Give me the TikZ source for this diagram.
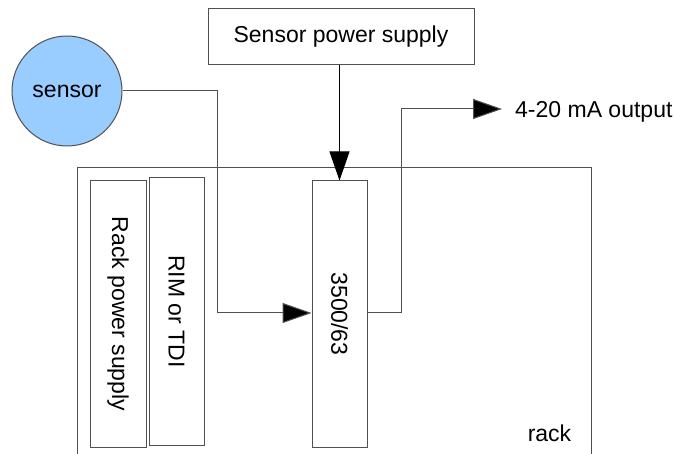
\documentclass[tikz,border=0pt]{standalone}
\usepackage{fontspec}
\setmainfont{Liberation Sans}
\usetikzlibrary{arrows.meta}
\definecolor{linegray}{RGB}{80,80,80}
\definecolor{sensorblue}{RGB}{153,204,255}
\begin{document}
\begin{tikzpicture}[x=1pt,y=-1pt,
  every node/.style={font=\fontsize{23}{27}\selectfont, inner sep=0pt},
  box/.style={draw=linegray, line width=1pt, fill=white},
  wire/.style={draw=linegray, line width=1pt},
  tip/.style={-{Triangle[length=29pt,width=20pt]}, tip color}
]
\useasboundingbox (0,0) rectangle (675,454);
% rack
\draw[wire] (77,454) -- (77,168) -- (591,168) -- (591,454);
\node (rack) at (549.5,433) {rack};
% boxes
\node[box, minimum width=56pt, minimum height=266pt] (rps) at (118,314) {\rotatebox{-90}{Rack power supply}};
\node[box, minimum width=55pt, minimum height=267pt] (rim) at (176.5,311.5) {\rotatebox{-90}{RIM or TDI}};
\node[box, minimum width=55pt, minimum height=266pt] (mod) at (339.5,314) {\rotatebox{-90}{3500/63}};
\node[box, minimum width=266pt, minimum height=56pt] (sps) at (341,37) {Sensor power supply};
\node[circle, draw=linegray, line width=1pt, fill=sensorblue, minimum size=110pt] (sensor) at (67,91) {sensor};
% connectors
\draw[wire, -{Triangle[length=29pt,width=20pt]}, black] (sps.south -| mod.north) -- (mod.north);
\draw[line width=1pt, linegray, -{Triangle[length=29pt,width=20pt,fill=black]}] (sensor.east) -- (217,91) -- (217,313) -- (mod.west |- 0,313);
\coordinate (out) at (502,109);
\draw[line width=1pt, linegray, -{Triangle[length=29pt,width=20pt,fill=black]}] (mod.east |- 0,313) -- (401,313) -- (401,109) -- (out);
\node[anchor=west] (outlbl) at (515,112) {4-20 mA output};
\end{tikzpicture}
\end{document}
